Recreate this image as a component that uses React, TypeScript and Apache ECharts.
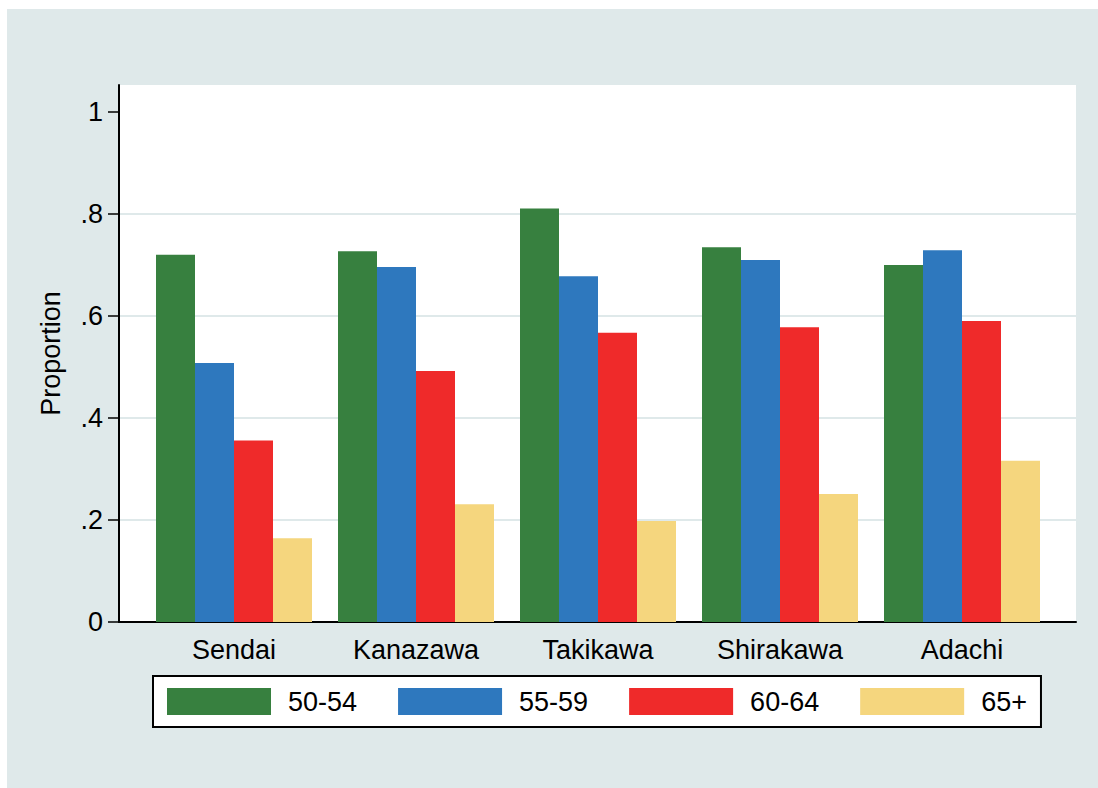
import React, { useEffect, useRef } from "react";
import * as echarts from "echarts";

const categories = ["Sendai", "Kanazawa", "Takikawa", "Shirakawa", "Adachi"];
const seriesNames = ["50-54", "55-59", "60-64", "65+"];
const age5054 = [0.72, 0.727, 0.811, 0.735, 0.70];
const age5559 = [0.508, 0.696, 0.678, 0.71, 0.729];
const age6064 = [0.356, 0.492, 0.567, 0.578, 0.59];
const age65p = [0.164, 0.231, 0.198, 0.251, 0.316];
const yTicks = [0, 0.2, 0.4, 0.6, 0.8, 1];

const colors = ["#37803F", "#2E78BE", "#EF2A2A", "#F5D67E"];
const BG = "#DFE9EA";
const FONT = "'Liberation Sans', Arial, sans-serif";
const FS = 27;

const fmt = (v: number) => {
  if (Math.abs(v - Math.round(v)) < 1e-9) return String(Math.round(v));
  const r = Math.round(v * 5) / 5;
  if (Math.abs(r - v) > 1e-6) return "";
  return r.toFixed(1).replace(/^0/, "");
};

export default function App() {
  const ref = useRef<HTMLDivElement>(null);
  useEffect(() => {
    if (!ref.current) return;
    const chart = echarts.init(ref.current, undefined, { renderer: "svg" });
    const YMAX = 537 / 510;
    const data = [age5054, age5559, age6064, age65p];
    chart.setOption({
      animation: false,
      backgroundColor: BG,
      textStyle: { fontFamily: FONT, color: "#000" },
      grid: [
        { left: 112, top: 76, width: 957, height: 537, show: true, backgroundColor: "#fff", borderWidth: 0 },
        { left: 136, top: 76, width: 910, height: 537 },
        { left: 112, top: 205, width: 957, height: 408 },
      ],
      xAxis: [
        {
          gridIndex: 0, type: "value", min: 0, max: 1,
          axisLine: { show: true, lineStyle: { color: "#000", width: 2 } },
          axisTick: { show: false }, axisLabel: { show: false }, splitLine: { show: false },
        },
        {
          gridIndex: 1, type: "category", data: categories,
          axisLine: { show: false }, axisTick: { show: false },
          axisLabel: { fontSize: FS, color: "#000", fontFamily: FONT, margin: 14 },
        },
        { gridIndex: 2, type: "value", min: 0, max: 1, show: false },
      ],
      yAxis: [
        {
          gridIndex: 0, type: "value", min: 0, max: YMAX, interval: 0.2,
          name: "Proportion", nameLocation: "middle", nameGap: 55,
          nameTextStyle: { fontSize: FS, color: "#000", fontFamily: FONT },
          axisLine: { show: true, lineStyle: { color: "#000", width: 2 } },
          axisTick: { show: true, length: 11, customValues: yTicks, lineStyle: { color: "#000", width: 1.5 } },
          axisLabel: { fontSize: FS, color: "#000", fontFamily: FONT, margin: 16, customValues: yTicks, formatter: fmt },
          splitLine: { show: false },
        },
        { gridIndex: 1, type: "value", min: 0, max: YMAX, show: false, splitLine: { show: false } },
        {
          gridIndex: 2, type: "value", min: 0, max: 0.8, interval: 0.2,
          axisLine: { show: false }, axisTick: { show: false }, axisLabel: { show: false },
          splitLine: { show: true, lineStyle: { color: BG, width: 2 } },
        },
      ],
      legend: {
        data: seriesNames,
        left: 146, top: 667,
        orient: "horizontal",
        backgroundColor: "#fff",
        borderColor: "#000",
        borderWidth: 2,
        borderRadius: 0,
        padding: [12, 14, 12, 14],
        itemWidth: 104,
        itemHeight: 27,
        itemGap: 41,
        icon: "rect",
        selectedMode: false,
        textStyle: { fontSize: FS, color: "#000", fontFamily: FONT, padding: [0, 0, 0, 12], lineHeight: 27 },
      },
      series: seriesNames.map((n, i) => ({
        name: n,
        type: "bar",
        xAxisIndex: 1,
        yAxisIndex: 1,
        data: data[i],
        barWidth: 39,
        barGap: "0%",
        z: 3,
        itemStyle: { color: colors[i] },
      })),
    });
    return () => chart.dispose();
  }, []);
  return (
    <div
      ref={ref}
      style={{ position: "absolute", left: 7, top: 9, width: 1091, height: 779 }}
    />
  );
}
